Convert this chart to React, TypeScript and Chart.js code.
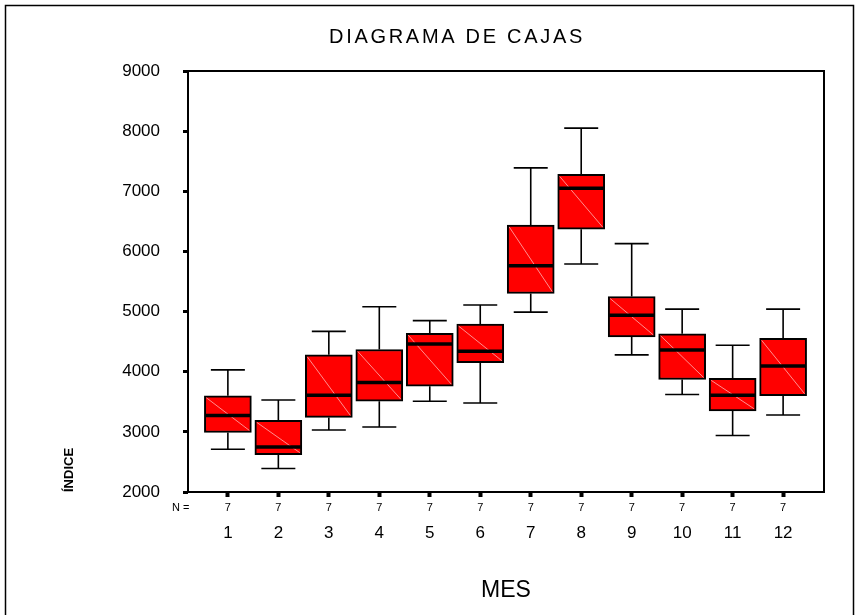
import React, { useEffect, useRef } from 'react';
import { Chart, registerables } from 'chart.js';

Chart.register(...registerables);

// ---- data ----
const MONTHS = [1, 2, 3, 4, 5, 6, 7, 8, 9, 10, 11, 12];
const MONTH_LABELS = ['1', '2', '3', '4', '5', '6', '7', '8', '9', '10', '11', '12'];
const N_COUNTS = [7, 7, 7, 7, 7, 7, 7, 7, 7, 7, 7, 7];
const MIN_VALUES = [2710, 2390, 3030, 3080, 3510, 3480, 4990, 5790, 4280, 3620, 2940, 3280];
const Q1_VALUES = [2990, 2620, 3240, 3510, 3760, 4150, 5300, 6370, 4580, 3870, 3350, 3600];
const MEDIAN_VALUES = [3270, 2750, 3610, 3820, 4460, 4340, 5760, 7050, 4940, 4360, 3610, 4095];
const Q3_VALUES = [3600, 3190, 4280, 4370, 4640, 4790, 6440, 7280, 5250, 4630, 3890, 4555];
const MAX_VALUES = [4030, 3530, 4670, 5080, 4850, 5110, 7390, 8050, 6130, 5040, 4440, 5040];
const Y_TICKS = [2000, 3000, 4000, 5000, 6000, 7000, 8000, 9000];

const TITLE = 'DIAGRAMA DE CAJAS';
const X_TITLE = 'MES';
const Y_TITLE = 'ÍNDICE';
const N_LABEL = 'N =';

const FONT = '"Liberation Sans", Arial, sans-serif';

const decorPlugin = {
  id: 'boxDecor',
  beforeDraw(chart: any) {
    const ctx = chart.ctx;
    ctx.save();
    ctx.fillStyle = '#ffffff';
    ctx.fillRect(0, 0, chart.width, chart.height);
    ctx.strokeStyle = '#000';
    ctx.lineWidth = 1.5;
    ctx.beginPath();
    ctx.moveTo(5.5, chart.height);
    ctx.lineTo(5.5, 5.5);
    ctx.lineTo(853.5, 5.5);
    ctx.lineTo(853.5, chart.height);
    ctx.stroke();
    ctx.restore();
  },
  afterDatasetsDraw(chart: any) {
    const ctx = chart.ctx;
    const xs = chart.scales.x;
    const ys = chart.scales.y;
    const meta = chart.getDatasetMeta(0);
    ctx.save();
    MONTHS.forEach((m, i) => {
      const bar = meta.data[i];
      const cx = xs.getPixelForValue(m);
      const half = bar.width / 2;
      const pMin = ys.getPixelForValue(MIN_VALUES[i]);
      const pQ1 = ys.getPixelForValue(Q1_VALUES[i]);
      const pMed = ys.getPixelForValue(MEDIAN_VALUES[i]);
      const pQ3 = ys.getPixelForValue(Q3_VALUES[i]);
      const pMax = ys.getPixelForValue(MAX_VALUES[i]);
      const cap = 17;
      // whiskers
      ctx.strokeStyle = '#000';
      ctx.lineWidth = 1.6;
      ctx.beginPath();
      ctx.moveTo(cx, pQ3);
      ctx.lineTo(cx, pMax);
      ctx.moveTo(cx - cap, pMax);
      ctx.lineTo(cx + cap, pMax);
      ctx.moveTo(cx, pQ1);
      ctx.lineTo(cx, pMin);
      ctx.moveTo(cx - cap, pMin);
      ctx.lineTo(cx + cap, pMin);
      ctx.stroke();
      // diagonal highlight
      ctx.strokeStyle = '#ff8f8f';
      ctx.lineWidth = 1;
      ctx.beginPath();
      ctx.moveTo(cx - half + 2, pQ3 + 2);
      ctx.lineTo(cx + half - 2, pQ1 - 2);
      ctx.stroke();
      // median
      ctx.strokeStyle = '#000';
      ctx.lineWidth = 3.5;
      ctx.beginPath();
      ctx.moveTo(cx - half + 1, pMed);
      ctx.lineTo(cx + half - 1, pMed);
      ctx.stroke();
    });
    ctx.restore();
  },
  afterDraw(chart: any) {
    const ctx = chart.ctx;
    const a = chart.chartArea;
    ctx.save();
    ctx.strokeStyle = '#000';
    ctx.lineWidth = 2;
    ctx.strokeRect(a.left, a.top, a.right - a.left, a.bottom - a.top);
    // title
    ctx.fillStyle = '#000';
    ctx.font = `20px ${FONT}`;
    (ctx as any).letterSpacing = '2.7px';
    ctx.textAlign = 'center';
    ctx.textBaseline = 'middle';
    ctx.fillText(TITLE, 457, 37);
    (ctx as any).letterSpacing = '0px';
    // N = label
    ctx.font = `11px ${FONT}`;
    ctx.textAlign = 'left';
    ctx.fillText(N_LABEL, 172, 508);
    ctx.restore();
  },
};

export default function App() {
  const ref = useRef<HTMLCanvasElement>(null);

  useEffect(() => {
    if (!ref.current) return;
    const chart = new Chart(ref.current, {
      type: 'bar',
      data: {
        datasets: [
          {
            data: MONTHS.map((m, i) => ({ x: m, y: [Q1_VALUES[i], Q3_VALUES[i]] })) as any,
            backgroundColor: '#ff0000',
            borderColor: '#000000',
            borderWidth: 2,
            borderSkipped: false,
            barThickness: 47,
          },
        ],
      },
      options: {
        animation: false,
        responsive: false,
        devicePixelRatio: 1,
        events: [],
        layout: { padding: { left: 5, right: 35, top: 71, bottom: 0 } },
        plugins: {
          legend: { display: false },
          tooltip: { enabled: false },
          title: { display: false },
        },
        scales: {
          x: {
            type: 'linear',
            position: 'bottom',
            weight: 0,
            min: 0.21,
            max: 12.81,
            offset: false,
            afterBuildTicks: (s: any) => {
              s.ticks = MONTHS.map((v) => ({ value: v }));
            },
            afterFit: (s: any) => {
              s.height = 26;
            },
            border: { display: false },
            grid: {
              display: true,
              offset: false,
              drawOnChartArea: false,
              drawTicks: true,
              tickLength: 5,
              tickWidth: 4,
              tickColor: '#000',
            },
            ticks: {
              autoSkip: false,
              maxRotation: 0,
              padding: 4,
              color: '#000',
              font: { family: FONT, size: 11 },
              callback: (v: any) => {
                const i = MONTHS.indexOf(Number(v));
                return i >= 0 ? String(N_COUNTS[i]) : '';
              },
            },
          },
          x2: {
            type: 'linear',
            position: 'bottom',
            axis: 'x',
            weight: 1,
            min: 0.21,
            max: 12.81,
            offset: false,
            afterBuildTicks: (s: any) => {
              s.ticks = MONTHS.map((v) => ({ value: v }));
            },
            afterFit: (s: any) => {
              s.height = 97;
            },
            border: { display: false },
            grid: { display: false, drawTicks: false, drawOnChartArea: false, offset: false },
            ticks: {
              autoSkip: false,
              maxRotation: 0,
              padding: 5,
              color: '#000',
              font: { family: FONT, size: 17 },
              callback: (v: any) => {
                const i = MONTHS.indexOf(Number(v));
                return i >= 0 ? MONTH_LABELS[i] : '';
              },
            },
            title: {
              display: true,
              text: X_TITLE,
              color: '#000',
              font: { family: FONT, size: 23 },
              padding: { top: 0, bottom: 11 },
            },
          },
          y: {
            type: 'linear',
            position: 'left',
            min: 2000,
            max: 9000,
            beginAtZero: false,
            afterBuildTicks: (s: any) => {
              s.ticks = Y_TICKS.map((v) => ({ value: v }));
            },
            afterFit: (s: any) => {
              s.width = 183;
            },
            border: { display: false },
            grid: {
              display: true,
              drawOnChartArea: false,
              drawTicks: true,
              tickLength: 5,
              tickWidth: 3,
              tickColor: '#000',
            },
            ticks: {
              padding: 23,
              color: '#000',
              font: { family: FONT, size: 17 },
              callback: (v: any) => String(v),
            },
            title: {
              display: true,
              text: Y_TITLE,
              align: 'start',
              color: '#000',
              font: { family: FONT, size: 13, weight: 'bold' },
              padding: { top: 57, bottom: 0 },
            },
          },
        },
      } as any,
      plugins: [decorPlugin],
    });
    return () => chart.destroy();
  }, []);

  return (
    <div style={{ position: 'absolute', left: 0, top: 0, width: 859, height: 615, background: '#fff' }}>
      <canvas ref={ref} width={859} height={615} style={{ display: 'block' }} />
    </div>
  );
}
